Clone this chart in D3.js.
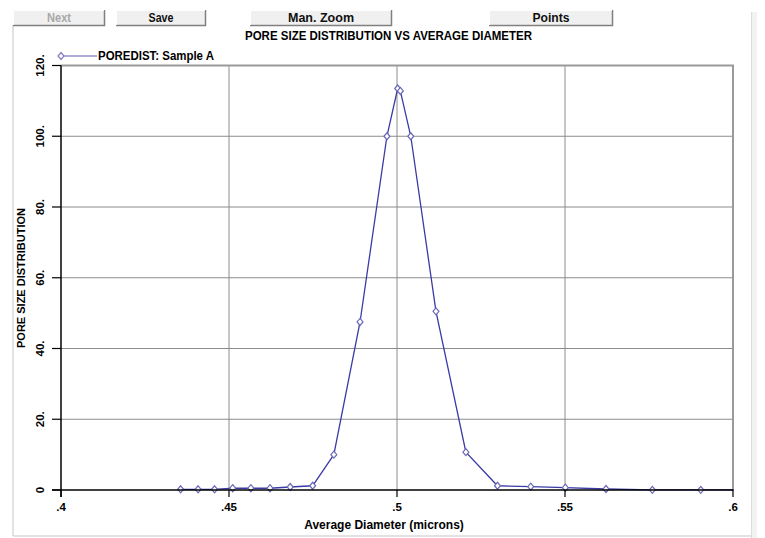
<!DOCTYPE html>
<html lang="en">
<head>
  <meta charset="UTF-8">
  <title>Pore Size Distribution</title>
  <script src="https://d3js.org/d3.v7.min.js"></script>
  <style>
    body { margin: 0; background: #fff; }
    svg { display: block; }
    .narrow { font-family: "Liberation Sans", Arial, sans-serif; font-weight: bold; }
    .bold { font-family: "Liberation Sans", Arial, sans-serif; font-weight: bold; }
  </style>
</head>
<body>
  <div id="chart"></div>
  <script>
    const width = 765, height = 538;

    // data
    const diameter = [0.4356, 0.4408, 0.4457, 0.4511, 0.4565, 0.4622, 0.4682, 0.4749, 0.4812, 0.4890,
                      0.4970, 0.5002, 0.5010, 0.5041, 0.5116, 0.5205, 0.5299, 0.5398, 0.5501, 0.5622,
                      0.5760, 0.5904, 0.6100];
    const poreDist = [0.2, 0.2, 0.2, 0.5, 0.5, 0.5, 0.85, 1.2, 10, 47.5,
                      100, 113.5, 112.8, 100, 50.5, 10.7, 1.2, 0.95, 0.65, 0.28,
                      0.05, 0.05, 0];
    const xTicks = [0.4, 0.45, 0.5, 0.55, 0.6];
    const xTickLabels = [".4", ".45", ".5", ".55", ".6"];
    const yTicks = [0, 20, 40, 60, 80, 100, 120];
    const yTickLabels = ["0", "20.", "40.", "60.", "80.", "100.", "120."];
    const buttons = [
      { label: "Next", x0: 13, x1: 105, w: 24, disabled: true },
      { label: "Save", x0: 116, x1: 206, w: 25 },
      { label: "Man. Zoom", x0: 250, x1: 392, w: 66 },
      { label: "Points", x0: 489, x1: 613, w: 37 }
    ];

    const svg = d3.select("#chart").append("svg")
      .attr("width", width)
      .attr("height", height);

    // outer frame
    svg.append("line").attr("x1", 13).attr("x2", 13).attr("y1", 25).attr("y2", 536)
      .attr("stroke", "#d8d8d8").attr("stroke-width", 1.5);
    svg.append("line").attr("x1", 13).attr("x2", 752).attr("y1", 536).attr("y2", 536)
      .attr("stroke", "#d8d8d8").attr("stroke-width", 1.5);
    svg.append("rect").attr("x", 751).attr("y", 12).attr("width", 6).attr("height", 526)
      .attr("fill", "#f2f2f2");
    svg.append("line").attr("x1", 751.5).attr("x2", 751.5).attr("y1", 12).attr("y2", 538)
      .attr("stroke", "#dcdcdc");

    // buttons
    const btn = svg.append("g").selectAll("g").data(buttons).enter().append("g");
    btn.append("rect")
      .attr("x", d => d.x0).attr("y", 10)
      .attr("width", d => d.x1 - d.x0).attr("height", 15)
      .attr("fill", "#f0f0f0");
    btn.append("path")
      .attr("d", d => `M${d.x0},25.5 H${d.x1 - 0.5} V10`)
      .attr("fill", "none").attr("stroke", "#808080").attr("stroke-width", 1.5);
    btn.append("path")
      .attr("d", d => `M${d.x0 + 0.5},25 V10.5 H${d.x1 - 1}`)
      .attr("fill", "none").attr("stroke", "#ffffff");
    btn.append("text")
      .attr("class", "narrow")
      .attr("x", d => (d.x0 + d.x1) / 2 - d.w / 2).attr("y", 21.5)
      .attr("textLength", d => d.w)
      .attr("lengthAdjust", "spacingAndGlyphs")
      .attr("font-size", 12.5)
      .attr("fill", d => d.disabled ? "#a8a8a8" : "#111")
      .text(d => d.label);

    const margin = { left: 61, right: 733, top: 65.5, bottom: 490 };

    const x = d3.scaleLinear().domain([0.4, 0.6]).range([margin.left, margin.right]);
    const y = d3.scaleLinear().domain([0, 120]).range([margin.bottom, margin.top]);

    // grid
    const grid = svg.append("g");
    grid.selectAll(".gx").data(xTicks.slice(1, -1)).enter().append("line")
      .attr("x1", d => x(d)).attr("x2", d => x(d))
      .attr("y1", y(120)).attr("y2", y(0))
      .attr("stroke", "#8c8c8c");
    grid.selectAll(".gy").data(yTicks.slice(1, -1)).enter().append("line")
      .attr("x1", x(0.4)).attr("x2", x(0.6))
      .attr("y1", d => y(d)).attr("y2", d => y(d))
      .attr("stroke", "#8c8c8c");
    // top and right border
    grid.append("path")
      .attr("d", `M${x(0.4)},${y(120)} H${x(0.6)} V${y(0)}`)
      .attr("fill", "none").attr("stroke", "#9a9a9a").attr("stroke-width", 2);

    // series, clipped to the plot
    svg.append("clipPath").attr("id", "clip").append("rect")
      .attr("x", x(0.4)).attr("y", y(120) - 10)
      .attr("width", x(0.6) - x(0.4) + 1).attr("height", y(0) - y(120) + 20);

    const pts = diameter.map((d, i) => [d, poreDist[i]]);
    const series = svg.append("g").attr("clip-path", "url(#clip)");
    series.append("path")
      .datum(pts)
      .attr("d", d3.line().x(d => x(d[0])).y(d => y(d[1])))
      .attr("fill", "none")
      .attr("stroke", "#3a3aa8")
      .attr("stroke-width", 1.3);

    const diamond = (cx, cy, r) => `M${cx},${cy - r} L${cx + r * 0.85},${cy} L${cx},${cy + r} L${cx - r * 0.85},${cy} Z`;
    series.selectAll(".pt").data(pts).enter().append("path")
      .attr("d", d => diamond(x(d[0]), y(d[1]), 3.5))
      .attr("fill", "#fff")
      .attr("stroke", "#6a6ab8")
      .attr("stroke-width", 1.2);

    // axes
    const axisG = svg.append("g");
    axisG.append("line")
      .attr("x1", x(0.4)).attr("x2", x(0.4))
      .attr("y1", y(120)).attr("y2", y(0) + 7)
      .attr("stroke", "#000").attr("stroke-width", 1.5);
    axisG.append("line")
      .attr("x1", x(0.4) - 9).attr("x2", x(0.6))
      .attr("y1", y(0)).attr("y2", y(0))
      .attr("stroke", "#000").attr("stroke-width", 1.5);
    axisG.selectAll(".ty").data(yTicks).enter().append("line")
      .attr("x1", x(0.4) - 9).attr("x2", x(0.4))
      .attr("y1", d => y(d)).attr("y2", d => y(d))
      .attr("stroke", "#000").attr("stroke-width", 1.2);
    axisG.selectAll(".tx").data(xTicks).enter().append("line")
      .attr("x1", d => x(d)).attr("x2", d => x(d))
      .attr("y1", y(0)).attr("y2", y(0) + 7)
      .attr("stroke", "#000").attr("stroke-width", 1.2);

    axisG.selectAll(".lx").data(xTicks).enter().append("text")
      .attr("class", "bold")
      .attr("x", d => x(d)).attr("y", 511)
      .attr("text-anchor", "middle")
      .attr("font-size", 11.5)
      .text((d, i) => xTickLabels[i]);

    axisG.selectAll(".ly").data(yTicks).enter().append("text")
      .attr("class", "bold")
      .attr("transform", d => `translate(44,${y(d)}) rotate(-90)`)
      .attr("text-anchor", "middle")
      .attr("font-size", 11.5)
      .text((d, i) => yTickLabels[i]);

    svg.append("text")
      .attr("class", "bold")
      .attr("x", 384).attr("y", 529)
      .attr("text-anchor", "middle")
      .attr("font-size", 12)
      .text("Average Diameter (microns)");

    svg.append("text")
      .attr("class", "bold")
      .attr("transform", "translate(25,278) rotate(-90)")
      .attr("text-anchor", "middle")
      .attr("font-size", 11)
      .text("PORE SIZE DISTRIBUTION");

    // title
    svg.append("text")
      .attr("class", "narrow")
      .attr("x", 245).attr("y", 40)
      .attr("textLength", 287)
      .attr("lengthAdjust", "spacingAndGlyphs")
      .attr("font-size", 13)
      .text("PORE SIZE DISTRIBUTION VS AVERAGE DIAMETER");

    // legend
    svg.append("line")
      .attr("x1", 61).attr("x2", 97).attr("y1", 56).attr("y2", 56)
      .attr("stroke", "#5a5ab0").attr("stroke-width", 1.2);
    svg.append("path")
      .attr("d", diamond(61, 56, 3.5))
      .attr("fill", "#fff").attr("stroke", "#8a7ac0").attr("stroke-width", 1.2);
    svg.append("text")
      .attr("class", "narrow")
      .attr("x", 98).attr("y", 60)
      .attr("textLength", 116)
      .attr("lengthAdjust", "spacingAndGlyphs")
      .attr("font-size", 13)
      .text("POREDIST: Sample A");
  </script>
</body>
</html>
